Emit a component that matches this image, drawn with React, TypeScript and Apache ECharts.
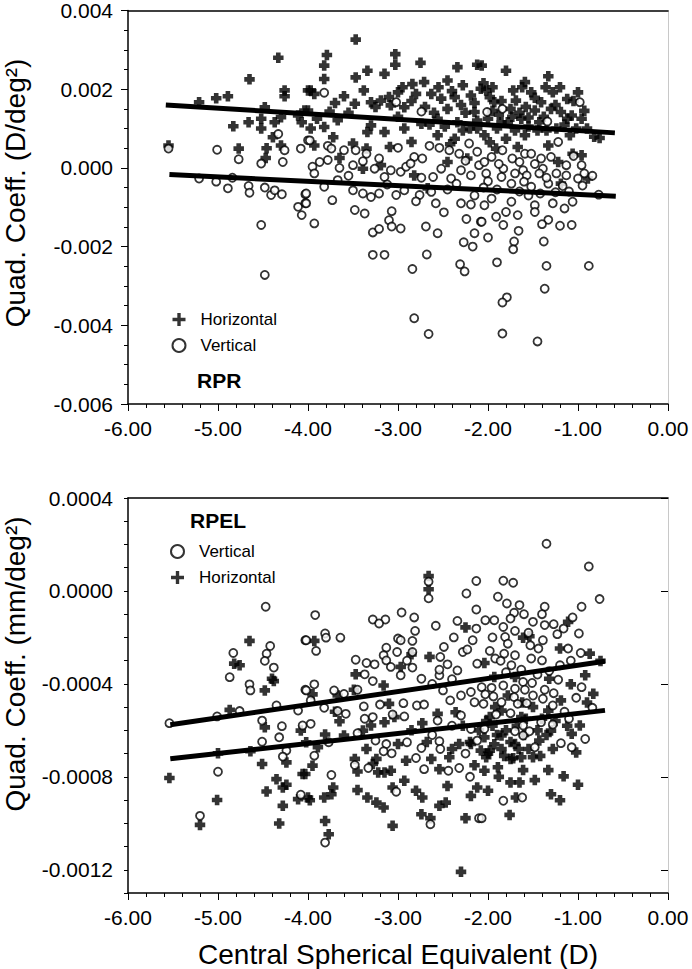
import React, { useEffect, useRef } from 'react';
import * as echarts from 'echarts';

const FONT = '"Liberation Sans", Arial, Helvetica, sans-serif';

// ---------- Tick values ----------
const xTickValues = [-6, -5, -4, -3, -2, -1, 0];
const rprYTickValues = [-0.006, -0.004, -0.002, 0, 0.002, 0.004];
const rpelYTickValues = [-0.0012, -0.0008, -0.0004, 0, 0.0004];

// ---------- RPR (top panel) ----------
const rprHorizontal: number[][] = [
  [-4.33, 0.0028], [-4.65, 0.00225], [-5.21, 0.00167], [-5.02, 0.00177], [-4.89, 0.00182], [-4.26, 0.00197],
  [-4.26, 0.00182], [-4.0, 0.00197], [-4.48, 0.00154], [-4.52, 0.00125], [-4.83, 0.00106], [-4.66, 0.00116],
  [-4.52, 0.001], [-4.37, 0.00116], [-4.3, 0.00129], [-4.07, 0.00116], [-4.11, 0.00133], [-4.04, 0.00146],
  [-4.39, 0.00078], [-4.46, 0.0005], [-4.3, 0.00057], [-4.77, 0.00049], [-5.55, 0.00057], [-4.47, 0.00025],
  [-3.47, 0.00326], [-3.79, 0.00287], [-3.82, 0.0026], [-3.82, 0.00226], [-3.47, 0.0023], [-3.34, 0.00247],
  [-3.15, 0.00239], [-3.03, 0.00289], [-3.03, 0.00262], [-2.75, 0.00267], [-2.34, 0.00256], [-2.12, 0.00262],
  [-2.45, 0.00222], [-3.38, 0.00197], [-3.6, 0.00182], [-3.97, 0.00197], [-3.93, 0.00188], [-3.48, 0.00163],
  [-3.3, 0.00167], [-3.19, 0.00171], [-3.0, 0.00192], [-2.84, 0.00213], [-2.71, 0.00218], [-2.8, 0.00188],
  [-2.63, 0.00188], [-2.52, 0.00176], [-2.37, 0.0018], [-2.19, 0.00184], [-2.08, 0.00201], [-3.08, 0.00159],
  [-2.93, 0.00154], [-4.0, 0.00146], [-3.76, 0.00143], [-3.67, 0.00121], [-3.82, 0.00104], [-3.97, 0.001],
  [-3.3, 0.00108], [-3.15, 0.00091], [-3.34, 0.00091], [-2.93, 0.001], [-2.74, 0.00112], [-2.56, 0.00125],
  [-2.34, 0.00116], [-2.15, 0.00142], [-2.12, 0.001], [-3.72, 0.00078], [-3.5, 0.00062], [-3.35, 0.00049],
  [-3.09, 0.00053], [-2.85, 0.00066], [-2.56, 0.00083], [-2.37, 0.00074], [-3.65, 0.00025], [-3.39, -0.00002],
  [-3.19, 0.00007], [-2.82, -0.00019], [-2.67, -0.00052], [-2.45, 0.00015], [-2.23, 0.00024], [-3.93, 0.00057],
  [-1.8, 0.00247], [-1.59, 0.00218], [-1.33, 0.00233], [-1.0, 0.00192], [-2.07, 0.0026], [-2.02, 0.00197],
  [-1.93, 0.00167], [-1.72, 0.00197], [-1.52, 0.00192], [-1.69, 0.00171], [-1.41, 0.00167], [-1.28, 0.00192],
  [-1.19, 0.00142], [-1.07, 0.00133], [-0.96, 0.00125], [-0.82, 0.00079], [-0.76, 0.00076], [-2.0, 0.00125],
  [-1.85, 0.00116], [-1.63, 0.00125], [-1.43, 0.00116], [-1.24, 0.001], [-1.09, 0.00083], [-2.04, 0.00083],
  [-1.8, 0.00074], [-1.59, 0.00083], [-1.33, 0.00057], [-1.06, 0.00036], [-0.96, 0.00032], [-1.91, 0.00049],
  [-1.67, 0.00053], [-1.22, 0.00015], [-1.19, -0.0004], [-0.89, -0.00027], [-1.78, 0.00116], [-1.48, 0.00146],
  [-1.95, 0.00145], [-1.88, 0.00135], [-1.75, 0.0015], [-1.65, 0.0014], [-1.55, 0.00105], [-1.45, 0.00095],
  [-1.38, 0.0013], [-1.3, 0.0015], [-1.15, 0.0011], [-1.02, 0.001], [-2.25, 0.0014], [-2.3, 0.0016],
  [-2.45, 0.0015], [-2.6, 0.0014], [-2.65, 0.0011], [-2.2, 0.001], [-1.9, 0.001], [-1.7, 0.00095],
  [-1.12, 0.00175], [-1.25, 0.0016], [-2.15, 0.00165], [-1.98, 0.0018], [-1.85, 0.0017], [-2.55, 0.00205],
  [-2.95, 0.00205], [-3.1, 0.0018], [-3.25, 0.00155],
  [-2.4, 0.00195], [-2.28, 0.0021], [-2.05, 0.00215], [-1.95, 0.00205], [-1.62, 0.00205], [-1.48, 0.00178],
  [-1.36, 0.00205], [-1.2, 0.00205], [-1.05, 0.0017], [-0.93, 0.00145], [-1.58, 0.00155], [-1.73, 0.0013],
  [-2.12, 0.0012], [-2.28, 0.00095], [-2.48, 0.00105], [-2.7, 0.00155], [-2.85, 0.0017], [-3.0, 0.0013],
  [-3.55, 0.0014], [-3.7, 0.00165], [-3.9, 0.00125], [-1.55, 0.00128], [-1.35, 0.00095], [-1.12, 0.00125],
  [-0.9, 0.001], [-1.98, 0.00065], [-2.42, 0.0006],
];

const rprVertical: number[][] = [
  [-5.55, 0.00049], [-5.01, 0.00046], [-4.77, 0.00022], [-4.52, 0.00011], [-4.28, 0.00015], [-4.26, 0.00045],
  [-4.33, 0.00086], [-4.08, 0.00049], [-4.0, 0.0007], [-5.21, -0.00027], [-5.02, -0.00035], [-4.89, -0.00052],
  [-4.84, -0.00025], [-4.66, -0.00046], [-4.65, -0.00063], [-4.48, -0.0005], [-4.41, -0.00069], [-4.37, -0.00057],
  [-4.29, -0.00067], [-4.03, -0.00067], [-4.11, -0.00099], [-4.07, -0.0012], [-4.03, -0.0009], [-4.52, -0.00145],
  [-4.48, -0.00272],
  [-3.82, 0.00191], [-3.02, 0.00167], [-2.74, 0.00143], [-3.98, 0.0007], [-3.78, 0.00056], [-3.74, 0.00049],
  [-3.6, 0.00045], [-3.47, 0.00045], [-3.35, 0.00036], [-3.21, 0.00024], [-3.0, 0.00051], [-2.82, 0.00028],
  [-2.73, 0.00024], [-2.65, 0.00056], [-2.54, 0.00051], [-2.43, 0.00045], [-2.32, 0.00036], [-2.21, 0.00062],
  [-2.12, 0.00041], [-3.87, 0.00015], [-3.95, 0.00003], [-3.93, -0.00014], [-3.65, 0.0], [-3.5, 0.00007],
  [-3.39, 0.00017], [-3.26, -0.00002], [-3.15, -0.00023], [-3.08, -0.00006], [-2.97, -0.0001], [-2.91, 0.00003],
  [-2.86, 0.00011], [-2.74, -0.00025], [-2.61, -0.00023], [-2.52, -0.00002], [-2.41, -0.00027], [-2.3, -0.00006],
  [-2.19, -0.00019], [-2.1, 0.00007], [-3.67, -0.00031], [-3.5, -0.00057], [-3.39, -0.00065], [-3.3, -0.00074],
  [-3.21, -0.00065], [-3.02, -0.00069], [-2.93, -0.00057], [-2.76, -0.00069], [-2.63, -0.00061], [-3.82, -0.00048],
  [-3.73, -0.00082], [-4.02, -0.00065], [-4.02, -0.0009], [-3.93, -0.00141], [-3.48, -0.00107], [-3.37, -0.00116],
  [-3.28, -0.00164], [-3.21, -0.00155], [-3.1, -0.00133], [-3.07, -0.0011], [-3.07, -0.00149], [-2.97, -0.00154],
  [-2.69, -0.00149], [-2.56, -0.00166], [-2.49, -0.00113], [-2.3, -0.0009], [-2.24, -0.0013], [-2.19, -0.00093],
  [-2.08, -0.00137], [-2.27, -0.00189], [-2.17, -0.002], [-2.15, -0.00166], [-3.28, -0.00221], [-3.15, -0.00221],
  [-2.68, -0.0022], [-2.84, -0.00257], [-2.31, -0.00245], [-2.26, -0.00263], [-2.82, -0.00382], [-2.66, -0.00422],
  [-0.98, 0.00167], [-2.01, 0.00142], [-1.84, 0.0015], [-1.34, 0.00118], [-1.22, 0.00066], [-1.84, 0.00045],
  [-1.96, 0.00028], [-1.59, 0.00036], [-1.52, 0.00036], [-1.73, 0.00024], [-1.41, 0.00024], [-2.04, 0.00015],
  [-1.83, -0.00002], [-1.61, -0.00006], [-1.39, -0.00002], [-1.13, 0.00007], [-0.96, 0.00007], [-2.02, -0.00014],
  [-1.85, -0.00023], [-1.7, -0.00014], [-1.57, -0.00019], [-1.43, -0.00014], [-1.24, -0.00014], [-1.13, -0.00019],
  [-0.93, -0.00014], [-0.84, -0.0002], [-2.0, -0.00034], [-1.74, -0.0004], [-1.52, -0.00048], [-1.33, -0.0004],
  [-1.17, -0.00046], [-1.0, -0.00027], [-0.77, -0.00068], [-1.96, -0.00078], [-1.74, -0.00086], [-1.48, -0.00095],
  [-1.28, -0.0009], [-1.06, -0.00086], [-2.04, -0.00095], [-1.91, -0.00124], [-1.8, -0.00112], [-1.67, -0.0012],
  [-1.48, -0.00112], [-1.33, -0.00132], [-1.15, -0.00103], [-2.07, -0.00137], [-1.83, -0.00145], [-1.66, -0.0016],
  [-1.4, -0.00143], [-1.2, -0.00147], [-1.07, -0.00145], [-2.0, -0.00177], [-1.71, -0.00187], [-1.72, -0.00207],
  [-1.38, -0.00187], [-1.9, -0.0024], [-1.35, -0.00249], [-0.88, -0.00249], [-1.37, -0.00307], [-1.79, -0.00329],
  [-1.84, -0.00342], [-1.84, -0.00421], [-1.45, -0.00441],
  [-2.25, 0.00018], [-2.35, -0.0004], [-2.45, -0.00055], [-2.05, -0.0005], [-1.9, -0.00055], [-1.65, -0.0006],
  [-1.55, -0.0007], [-1.42, -0.00065], [-1.25, -0.00062], [-1.1, -0.0006], [-0.95, -0.00045], [-1.88, 0.0001],
  [-1.65, 0.00015], [-1.48, 0.0001], [-1.3, 0.00028], [-1.05, 0.0003], [-1.6, -0.00035], [-1.35, -0.00025],
  [-2.15, -0.0007], [-2.58, -0.0009], [-2.8, -0.00085], [-3.12, -0.00042], [-3.55, -0.0002], [-3.78, 0.0002],
];

const rprHorizontalFit: number[][] = [[-5.58, 0.0016], [-0.59, 0.00089]];
const rprVerticalFit: number[][] = [[-5.54, -0.00017], [-0.58, -0.00072]];

// ---------- RPEL (bottom panel) ----------
const rpelVertical: number[][] = [
  [-4.47, -0.000068], [-4.03, -0.000212], [-4.42, -0.000237], [-4.83, -0.000267], [-4.46, -0.00027],
  [-4.48, -0.000301], [-4.38, -0.00033], [-4.87, -0.000371], [-4.65, -0.000402], [-4.64, -0.000428],
  [-4.03, -0.000425], [-4.35, -0.000493], [-4.11, -0.000515], [-4.76, -0.000517], [-5.01, -0.00054],
  [-5.54, -0.000569], [-4.51, -0.000558], [-4.29, -0.000582], [-4.06, -0.000579], [-4.32, -0.00063],
  [-4.51, -0.000649], [-4.24, -0.000687], [-4.28, -0.000713], [-5.0, -0.000778], [-4.08, -0.000877],
  [-5.2, -0.000968],
  [-2.13, 0.000043], [-2.66, 0.00004], [-2.66, -0.000032], [-2.24, -0.000011], [-2.13, -0.00008],
  [-3.92, -0.000104], [-3.28, -0.000123], [-3.14, -0.000123], [-3.21, -0.00014], [-2.96, -0.000093],
  [-2.82, -0.000114], [-2.34, -0.000129], [-2.13, -0.000162], [-2.81, -0.000172], [-3.81, -0.000183],
  [-3.8, -0.000201], [-3.64, -0.000201], [-4.02, -0.000212], [-3.91, -0.000258], [-3.0, -0.000205],
  [-2.97, -0.000212], [-2.84, -0.000215], [-2.84, -0.000263], [-3.13, -0.000244], [-3.01, -0.000263],
  [-3.16, -0.000277], [-3.13, -0.000299], [-2.49, -0.000241], [-2.28, -0.000263], [-2.23, -0.000252],
  [-2.17, -0.000212], [-2.53, -0.000284], [-2.12, -0.000313], [-3.47, -0.000296], [-3.35, -0.00031],
  [-3.26, -0.000316], [-3.37, -0.000359], [-3.28, -0.000388], [-3.08, -0.000327], [-2.97, -0.000363],
  [-2.84, -0.00033], [-2.74, -0.000378], [-2.54, -0.000363], [-2.45, -0.000316], [-2.54, -0.000339],
  [-2.34, -0.000342], [-3.93, -0.000402], [-4.02, -0.000428], [-3.71, -0.000428], [-3.45, -0.000425],
  [-3.6, -0.000443], [-3.97, -0.000471], [-3.82, -0.000503], [-3.67, -0.000517], [-3.58, -0.000529],
  [-3.97, -0.000572], [-3.38, -0.000497], [-3.2, -0.000489], [-2.94, -0.000483], [-2.79, -0.000493],
  [-2.71, -0.000489], [-2.5, -0.000428], [-2.42, -0.000471], [-2.3, -0.00045], [-2.19, -0.000435],
  [-2.15, -0.000479], [-3.06, -0.000532], [-2.93, -0.00054], [-3.37, -0.00055], [-3.28, -0.000543],
  [-2.56, -0.000558], [-2.3, -0.000536], [-2.19, -0.000594], [-2.12, -0.000644], [-3.45, -0.000612],
  [-3.25, -0.000644], [-3.13, -0.000659], [-2.9, -0.000651], [-3.07, -0.000699], [-3.16, -0.00069],
  [-2.74, -0.000676], [-2.54, -0.000647], [-2.53, -0.00068], [-3.77, -0.000651], [-3.93, -0.000709],
  [-2.8, -0.000719], [-2.71, -0.000767], [-3.33, -0.000762], [-2.44, -0.000774], [-2.32, -0.000762],
  [-2.2, -0.0008], [-3.48, -0.000749], [-3.74, -0.000792], [-3.02, -0.000864], [-2.64, -0.001004],
  [-2.1, -0.000978], [-3.81, -0.001083],
  [-1.35, 0.000203], [-0.88, 0.000105], [-0.76, -0.000035], [-1.83, 0.000044], [-1.72, 0.000035],
  [-1.89, -0.000025], [-1.79, -0.000054], [-1.65, -0.000061], [-1.37, -0.000068], [-0.96, -0.000068],
  [-1.71, -0.000094], [-1.6, -0.0001], [-1.4, -0.0001], [-2.03, -0.000126], [-1.93, -0.000126],
  [-1.75, -0.000119], [-1.5, -0.000133], [-1.37, -0.000147], [-1.27, -0.000143], [-1.16, -0.000162],
  [-1.06, -0.000114], [-1.83, -0.000155], [-1.7, -0.000172], [-1.23, -0.000186], [-0.99, -0.000183],
  [-1.81, -0.000198], [-1.39, -0.000212], [-1.53, -0.000234], [-1.44, -0.000248], [-1.78, -0.000227],
  [-1.98, -0.000258], [-1.82, -0.00027], [-1.7, -0.000277], [-1.11, -0.000248], [-0.97, -0.000267],
  [-1.92, -0.000291], [-1.86, -0.000301], [-1.52, -0.000291], [-1.4, -0.000299], [-1.74, -0.00032],
  [-1.63, -0.000339], [-1.32, -0.000345], [-1.22, -0.000382], [-1.61, -0.000392], [-1.51, -0.000396],
  [-2.07, -0.000414], [-1.96, -0.000417], [-1.83, -0.000407], [-1.7, -0.000421], [-1.59, -0.000425],
  [-1.37, -0.000425], [-0.96, -0.000414], [-2.03, -0.000445], [-1.94, -0.000454], [-1.71, -0.000457],
  [-1.5, -0.00045], [-1.39, -0.000464], [-1.02, -0.00046], [-2.05, -0.000486], [-1.85, -0.000479],
  [-1.67, -0.000486], [-1.57, -0.000483], [-1.28, -0.000493], [-0.84, -0.000503], [-1.91, -0.000532],
  [-1.75, -0.000526], [-1.41, -0.000565], [-1.1, -0.00055], [-2.04, -0.000594], [-1.7, -0.000604],
  [-1.61, -0.000579], [-1.54, -0.000604], [-1.28, -0.000575], [-1.61, -0.000622], [-1.48, -0.000673],
  [-1.19, -0.000655], [-1.07, -0.000673], [-0.92, -0.000637], [-1.62, -0.000889], [-1.83, -0.000903],
  [-2.07, -0.000978],
  [-2.4, -0.00038], [-2.62, -0.0004], [-2.38, -0.0002], [-2.58, -0.00015], [-2.9, -0.0003], [-2.62, -0.00062],
  [-2.4, -0.00058], [-2.25, -0.0007], [-1.95, -0.0002], [-1.55, -0.00018], [-1.45, -0.00036], [-1.2, -0.00032],
  [-1.08, -0.0003], [-1.27, -0.00044], [-1.15, -0.00052], [-1.8, -0.00035],
];

const rpelHorizontal: number[][] = [
  [-4.65, -0.000215], [-4.82, -0.000313], [-4.76, -0.00032], [-4.4, -0.000378], [-4.38, -0.000388],
  [-4.48, -0.000428], [-4.87, -0.000512], [-4.48, -0.000587], [-4.08, -0.000601], [-5.0, -0.000699],
  [-4.64, -0.00069], [-4.51, -0.000745], [-4.24, -0.000738], [-5.54, -0.000805], [-4.35, -0.00081],
  [-4.28, -0.000846], [-4.24, -0.000834], [-4.46, -0.000863], [-4.06, -0.000788], [-4.11, -0.000896],
  [-4.28, -0.000925], [-5.01, -0.0009], [-5.2, -0.001007], [-4.32, -0.001001], [-4.0, -0.000889],
  [-2.66, 0.000064], [-2.66, 0.000007], [-2.25, -0.000157], [-3.93, -0.000215], [-2.85, -0.000273],
  [-2.65, -0.000284], [-2.97, -0.000327], [-3.47, -0.000359], [-3.16, -0.000407], [-3.67, -0.00045],
  [-3.95, -0.000445], [-3.49, -0.000425], [-3.65, -0.000561], [-3.81, -0.000618], [-3.6, -0.000622],
  [-3.89, -0.000673], [-4.02, -0.000651], [-3.1, -0.000486], [-3.15, -0.000565], [-3.04, -0.000543],
  [-2.73, -0.000569], [-2.56, -0.000529], [-2.36, -0.000522], [-3.39, -0.000601], [-3.3, -0.000579],
  [-3.0, -0.000659], [-2.91, -0.000731], [-3.24, -0.000723], [-3.28, -0.000745], [-3.48, -0.000723],
  [-3.45, -0.000777], [-3.22, -0.000781], [-3.15, -0.000781], [-3.08, -0.000774], [-2.63, -0.000723],
  [-2.54, -0.000767], [-2.43, -0.000716], [-2.32, -0.000659], [-2.19, -0.000659], [-2.08, -0.000687],
  [-3.95, -0.000752], [-4.03, -0.000788], [-2.93, -0.000817], [-3.06, -0.000846], [-3.45, -0.000857],
  [-3.72, -0.000846], [-3.74, -0.000875], [-3.82, -0.000889], [-3.98, -0.000901], [-3.34, -0.000889],
  [-3.24, -0.000911], [-3.16, -0.000932], [-2.8, -0.00086], [-2.73, -0.000889], [-2.45, -0.000839],
  [-2.19, -0.000882], [-2.12, -0.000846], [-2.54, -0.000925], [-2.47, -0.000911], [-2.74, -0.000961],
  [-2.64, -0.000978], [-3.06, -0.001011], [-2.25, -0.000978], [-3.81, -0.00099], [-3.77, -0.001047],
  [-2.3, -0.001209],
  [-1.11, -0.000133], [-1.54, -0.000195], [-1.61, -0.000201], [-1.2, -0.000248], [-0.87, -0.00027],
  [-0.75, -0.000301], [-2.04, -0.00031], [-1.93, -0.00037], [-1.7, -0.00037], [-1.32, -0.000378],
  [-0.92, -0.000363], [-1.08, -0.000402], [-0.83, -0.000443], [-1.19, -0.000471], [-1.85, -0.000515],
  [-1.98, -0.000543], [-1.63, -0.000543], [-1.33, -0.000515], [-0.98, -0.000579], [-1.07, -0.000615],
  [-2.04, -0.00063], [-1.85, -0.000622], [-1.7, -0.000659], [-1.43, -0.000644], [-1.3, -0.000601],
  [-1.02, -0.000695], [-1.98, -0.000687], [-1.75, -0.000723], [-1.63, -0.000716], [-1.89, -0.000759],
  [-2.04, -0.000774], [-1.61, -0.000771], [-1.33, -0.000771], [-1.48, -0.000814], [-1.16, -0.000798],
  [-1.0, -0.000834], [-1.75, -0.000824], [-1.65, -0.000824], [-2.0, -0.00086], [-1.3, -0.000875],
  [-1.2, -0.000901], [-1.69, -0.000889], [-1.76, -0.000964], [-2.02, -0.000716], [-1.5, -0.000716],
  [-1.95, -0.00058], [-1.9, -0.00062], [-1.8, -0.0006], [-1.75, -0.00065], [-1.68, -0.00058],
  [-1.6, -0.00062], [-1.55, -0.00068], [-1.45, -0.0006], [-1.4, -0.00055], [-1.85, -0.00068],
  [-2.0, -0.0007], [-1.72, -0.00072], [-1.5, -0.0005], [-1.35, -0.00062], [-1.25, -0.00056],
  [-2.1, -0.0006], [-2.2, -0.00065], [-2.15, -0.00075], [-1.88, -0.0008], [-1.62, -0.00048],
  [-1.78, -0.00045], [-1.92, -0.0005],
  [-2.02, -0.00056], [-1.93, -0.00066], [-1.82, -0.00071], [-1.66, -0.00068], [-1.58, -0.00055],
  [-1.42, -0.00071], [-1.28, -0.00068], [-2.28, -0.00058], [-2.4, -0.00068], [-2.85, -0.0006],
  [-2.68, -0.00065], [-3.35, -0.00068], [-3.7, -0.00052], [-1.12, -0.00058], [-0.9, -0.00048],
];

const rpelVerticalFit: number[][] = [[-5.53, -0.000576], [-0.7, -0.000303]];
const rpelHorizontalFit: number[][] = [[-5.53, -0.000722], [-0.7, -0.000514]];

// ---------- Styling ----------
const BOLD_PLUS = 'path://M2.8,0H7.2V2.8H10V7.2H7.2V10H2.8V7.2H0V2.8H2.8Z';
const THIN_PLUS = 'path://M3.7,0H6.3V3.7H10V6.3H6.3V10H3.7V6.3H0V3.7H3.7Z';

const fmt = (v: number, d: number) => (Math.abs(v) < 1e-12 ? 0 : v).toFixed(d);

const axisLineStyle = { color: '#000', width: 1.5 };
const tickStyle = { color: '#000', width: 1 };
const labelStyle = { fontSize: 21, color: '#000', fontFamily: FONT };

function bottomX(gridIndex: number) {
  return {
    type: 'value', gridIndex, position: 'bottom',
    min: xTickValues[0], max: xTickValues[xTickValues.length - 1], interval: 1,
    axisLine: { show: true, onZero: false, lineStyle: axisLineStyle },
    axisTick: { show: true, length: 7, lineStyle: tickStyle },
    minorTick: { show: true, splitNumber: 5, length: 4, lineStyle: tickStyle },
    axisLabel: { ...labelStyle, margin: 14, formatter: (v: number) => fmt(v, 2) },
    splitLine: { show: false },
  };
}
function borderX(gridIndex: number) {
  return {
    type: 'value', gridIndex, position: 'top', min: -6, max: 0,
    axisLine: { show: true, onZero: false, lineStyle: axisLineStyle },
    axisTick: { show: false }, axisLabel: { show: false }, splitLine: { show: false },
  };
}
function borderY(gridIndex: number, min: number, max: number) {
  return {
    type: 'value', gridIndex, position: 'right', min, max,
    axisLine: { show: true, onZero: false, lineStyle: { color: '#c8c8c8', width: 1 } },
    axisTick: { show: false }, axisLabel: { show: false }, splitLine: { show: false },
  };
}

const crossStyle = { color: '#000' };
const circleStyle = { color: '#fff', borderColor: '#000', borderWidth: 1.8 };

function crossSeries(data: number[][], xi: number, yi: number) {
  return {
    name: 'Horizontal', type: 'scatter', xAxisIndex: xi, yAxisIndex: yi, data,
    symbol: BOLD_PLUS, symbolSize: 10.5, itemStyle: crossStyle, z: 2,
  };
}
function circleSeries(data: number[][], xi: number, yi: number) {
  return {
    name: 'Vertical', type: 'scatter', xAxisIndex: xi, yAxisIndex: yi, data,
    symbol: 'circle', symbolSize: 8, itemStyle: circleStyle, z: 3,
  };
}
function fitSeries(name: string, data: number[][], xi: number, yi: number) {
  return {
    name, type: 'line', xAxisIndex: xi, yAxisIndex: yi, data,
    symbol: 'none', lineStyle: { color: '#000', width: 5, cap: 'butt' }, z: 4, silent: true,
  };
}

function legend(left: number, top: number, order: string[]) {
  return {
    orient: 'vertical', left, top, padding: 0, itemWidth: 13, itemHeight: 13, itemGap: 9,
    selectedMode: false,
    textStyle: { fontSize: 17, color: '#000', fontFamily: FONT, padding: [0, 0, 0, 10] },
    data: order.map((n) => ({ name: n, icon: n === 'Horizontal' ? THIN_PLUS : 'circle' })),
  };
}

function textEl(text: string, x: number, y: number, size: number, weight: string, align: string, rotation = 0) {
  return {
    type: 'text', x, y, rotation, silent: true,
    style: {
      text, fill: '#000', fontSize: size, fontWeight: weight, fontFamily: FONT,
      align, verticalAlign: 'middle', textAlign: align, textVerticalAlign: 'middle',
    },
  };
}

const option = {
  animation: false,
  backgroundColor: '#fff',
  grid: [
    { left: 128, top: 8, width: 540, height: 396 },
    { left: 128, top: 498, width: 540, height: 395 },
  ],
  xAxis: [bottomX(0), borderX(0), bottomX(1), borderX(1)],
  yAxis: [
    {
      type: 'value', gridIndex: 0, position: 'left',
      min: rprYTickValues[0], max: rprYTickValues[rprYTickValues.length - 1], interval: 0.002,
      axisLine: { show: true, onZero: false, lineStyle: axisLineStyle },
      axisTick: { show: true, length: 7, lineStyle: tickStyle },
      minorTick: { show: true, splitNumber: 4, length: 4, lineStyle: tickStyle },
      axisLabel: { ...labelStyle, margin: 15, formatter: (v: number) => fmt(v, 3) },
      splitLine: { show: false },
    },
    borderY(0, -0.006, 0.004),
    {
      type: 'value', gridIndex: 1, position: 'left', min: -0.0013, max: 0.0004, interval: 0.0001,
      axisLine: { show: true, onZero: false, lineStyle: axisLineStyle },
      axisTick: { show: true, length: 4, lineStyle: tickStyle },
      axisLabel: { show: false },
      splitLine: { show: false },
    },
    {
      type: 'value', gridIndex: 1, position: 'left', min: -0.0013, max: 0.0004,
      axisLine: { show: false },
      axisTick: { show: true, length: 7, lineStyle: tickStyle, customValues: rpelYTickValues },
      axisLabel: { ...labelStyle, margin: 15, customValues: rpelYTickValues, formatter: (v: number) => fmt(v, 4) },
      splitLine: { show: false },
    },
    borderY(1, -0.0013, 0.0004),
  ],
  legend: [
    legend(171.5, 311, ['Horizontal', 'Vertical']),
    legend(170, 543, ['Vertical', 'Horizontal']),
  ],
  series: [
    crossSeries(rprHorizontal, 0, 0),
    circleSeries(rprVertical, 0, 0),
    fitSeries('Horizontal fit', rprHorizontalFit, 0, 0),
    fitSeries('Vertical fit', rprVerticalFit, 0, 0),
    crossSeries(rpelHorizontal, 2, 3),
    circleSeries(rpelVertical, 2, 3),
    fitSeries('Vertical fit', rpelVerticalFit, 2, 3),
    fitSeries('Horizontal fit', rpelHorizontalFit, 2, 3),
  ],
  graphic: [
    textEl('RPR', 197, 380, 21, 'bold', 'left'),
    textEl('RPEL', 190, 520, 21, 'bold', 'left'),
    textEl('Quad. Coeff. (D/deg²)', 15, 193, 28, 'normal', 'center', Math.PI / 2),
    textEl('Quad. Coeff. (mm/deg²)', 15, 664, 28, 'normal', 'center', Math.PI / 2),
    textEl('Central Spherical Equivalent (D)', 398, 954, 28, 'normal', 'center'),
  ],
};

export default function App() {
  const ref = useRef<HTMLDivElement>(null);
  useEffect(() => {
    if (!ref.current) return;
    const chart = echarts.init(ref.current, null, { renderer: 'svg' });
    chart.setOption(option as any);
    return () => chart.dispose();
  }, []);
  return (
    <div
      ref={ref}
      style={{ position: 'fixed', left: 0, top: 0, width: 692, height: 969, background: '#fff' }}
    />
  );
}
